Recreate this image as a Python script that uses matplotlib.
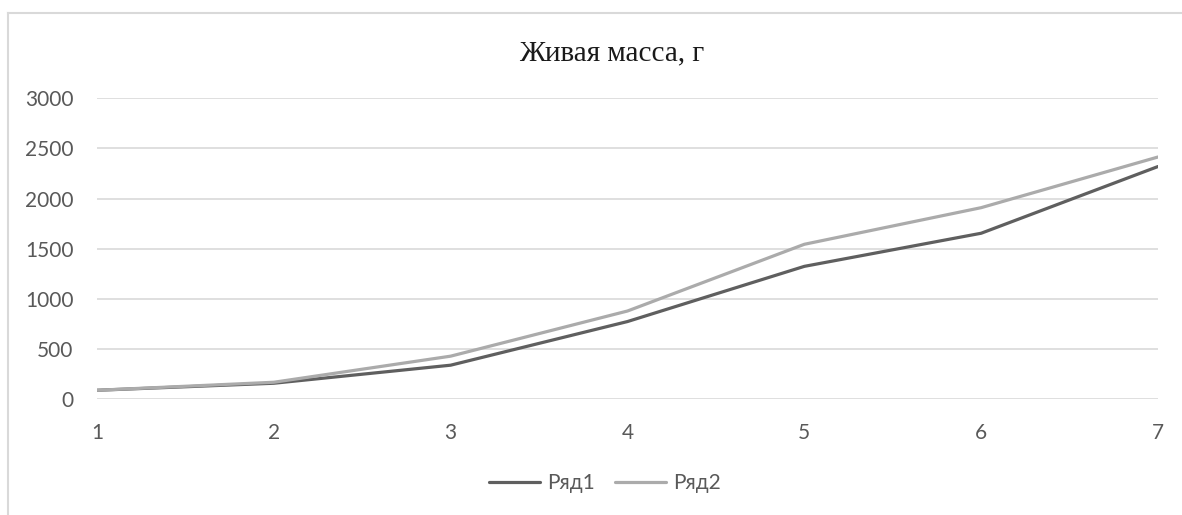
import matplotlib.pyplot as plt
from matplotlib.lines import Line2D

# live weight by week, two groups
weeks = [1, 2, 3, 4, 5, 6, 7]
row1 = [90, 160, 340, 775, 1325, 1655, 2320]
row2 = [90, 170, 430, 880, 1545, 1910, 2415]
series_names = ['Ряд1', 'Ряд2']
y_ticks = [0, 500, 1000, 1500, 2000, 2500, 3000]

W, H = 1182, 515
fig = plt.figure(figsize=(W / 100, H / 100), dpi=100)
ax = fig.add_axes([97 / W, 1 - 399.3 / H, (1158 - 97) / W, (399.3 - 98.3) / H])

ax.plot(weeks, row1, color='#5f5f5f', lw=2.3, label=series_names[0], solid_capstyle='round')
ax.plot(weeks, row2, color='#ababab', lw=2.3, label=series_names[1], solid_capstyle='round')

ax.set_xlim(1, 7)
ax.set_ylim(0, 3000)
ax.set_yticks(y_ticks)
ax.set_xticks(weeks)
ax.yaxis.grid(True, color='#d9d9d9', lw=1.2)
ax.set_axisbelow(True)
for s in ax.spines.values():
    s.set_visible(False)
ax.tick_params(length=0, labelsize=15, labelcolor='#595959')
ax.tick_params(axis='y', pad=17)
ax.tick_params(axis='x', pad=17)
for lab in ax.get_xticklabels() + ax.get_yticklabels():
    lab.set_fontfamily('Lato')

fig.text(612 / W, 1 - 53 / H, 'Живая масса, г', ha='center', va='center',
         fontsize=21, family='Liberation Serif', color='#1a1a1a')

leg = fig.legend(loc='center', bbox_to_anchor=(605 / W, 1 - 483 / H), ncol=2,
                 frameon=False, handlelength=2.45, handletextpad=0.33, columnspacing=1.0,
                 prop={'family': 'Lato', 'size': 15})
for t in leg.get_texts():
    t.set_color('#595959')

# chart area border
fig.add_artist(Line2D([8 / W, 8 / W], [0, 1 - 13 / H], transform=fig.transFigure,
                      color='#d9d9d9', lw=1.5))
fig.add_artist(Line2D([8 / W, 1], [1 - 13 / H, 1 - 13 / H], transform=fig.transFigure,
                      color='#d9d9d9', lw=1.5))

fig.savefig('out.png', dpi=100)
